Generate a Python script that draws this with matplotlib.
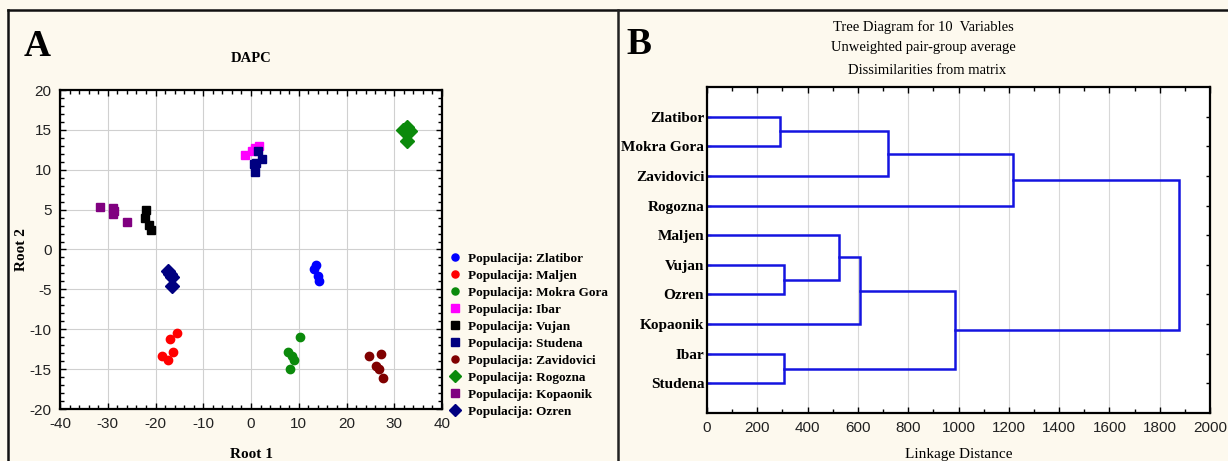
import matplotlib
matplotlib.use("Agg")
import matplotlib.pyplot as plt
from matplotlib.lines import Line2D
from matplotlib.ticker import MultipleLocator

plt.rcParams["axes.unicode_minus"] = False

# DAPC scores (Root 1, Root 2) per population
zlatibor_x = [13.7, 13.2, 14.0, 14.3]
zlatibor_y = [-2.0, -2.5, -3.3, -3.9]
maljen_x = [-15.6, -16.9, -16.4, -18.6, -17.3]
maljen_y = [-10.5, -11.2, -12.8, -13.3, -13.8]
mokra_x = [10.3, 7.8, 8.5, 9.1, 8.2]
mokra_y = [-11.0, -12.9, -13.4, -13.8, -15.0]
ibar_x = [-1.2, 0.2, 0.8, 1.7]
ibar_y = [11.8, 12.4, 12.7, 13.0]
vujan_x = [-21.9, -22.2, -21.3, -21.0]
vujan_y = [5.0, 4.0, 3.1, 2.5]
studena_x = [1.4, 2.2, 0.6, 0.9, 1.1]
studena_y = [12.4, 11.3, 10.7, 9.7, 10.9]
zavid_x = [24.8, 27.3, 26.2, 26.8, 27.6]
zavid_y = [-13.4, -13.15, -14.6, -15.0, -16.1]
rogozna_x = [31.8, 32.6, 33.4, 32.6]
rogozna_y = [15.0, 15.4, 14.8, 13.6]
kopaonik_x = [-31.7, -29.0, -28.8, -28.6, -26.0]
kopaonik_y = [5.3, 5.2, 4.4, 4.8, 3.4]
ozren_x = [-17.3, -17.0, -16.6, -16.6]
ozren_y = [-2.7, -3.1, -3.5, -4.6]

pop_names = ["Zlatibor", "Maljen", "Mokra Gora", "Ibar", "Vujan", "Studena",
             "Zavidovici", "Rogozna", "Kopaonik", "Ozren"]
pop_x = [zlatibor_x, maljen_x, mokra_x, ibar_x, vujan_x, studena_x,
         zavid_x, rogozna_x, kopaonik_x, ozren_x]
pop_y = [zlatibor_y, maljen_y, mokra_y, ibar_y, vujan_y, studena_y,
         zavid_y, rogozna_y, kopaonik_y, ozren_y]
pop_colors = ["#0000ff", "#ff0000", "#0b8a0b", "#ff00ff", "#000000", "#000080",
              "#800000", "#0b8a0b", "#800080", "#000080"]
pop_markers = ["o", "o", "o", "s", "s", "s", "o", "D", "s", "D"]

# dendrogram (UPGMA): leaves top to bottom, and merge distances
leaves = ["Zlatibor", "Mokra Gora", "Zavidovici", "Rogozna", "Maljen",
          "Vujan", "Ozren", "Kopaonik", "Ibar", "Studena"]
# each merge: (left node, right node, height); nodes 0-9 are leaves
merges = [(0, 1, 290), (10, 2, 720), (11, 3, 1215),
          (5, 6, 305), (4, 13, 525), (14, 7, 607),
          (8, 9, 305), (15, 16, 986), (12, 17, 1876)]

bg = "#fdf9ee"
serif = "Liberation Serif"
sans = "Liberation Sans"

fig = plt.figure(figsize=(12.28, 4.61), dpi=100, facecolor=bg)

# panel borders
fig.add_artist(Line2D([8 / 1228, 1], [1 - 10 / 461, 1 - 10 / 461], color="#111", lw=1.8))
fig.add_artist(Line2D([8 / 1228, 8 / 1228], [0, 1 - 10 / 461], color="#111", lw=1.8))
fig.add_artist(Line2D([618 / 1228, 618 / 1228], [0, 1 - 10 / 461], color="#222", lw=1.8))

# ---- Panel A: DAPC scatter
ax = fig.add_axes([60 / 1228, 1 - 409 / 461, 382 / 1228, 319 / 461])
ax.set_facecolor("white")
for name, xs, ys, c, m in zip(pop_names, pop_x, pop_y, pop_colors, pop_markers):
    ms = 7.5 if m == "D" else 6
    ax.plot(xs, ys, ls="none", marker=m, color=c, ms=ms, mec=c,
            label="Populacija: " + name)
ax.set_xlim(-40, 40)
ax.set_ylim(-20, 20)
ax.xaxis.set_major_locator(MultipleLocator(10))
ax.yaxis.set_major_locator(MultipleLocator(5))
ax.xaxis.set_minor_locator(MultipleLocator(2))
ax.yaxis.set_minor_locator(MultipleLocator(1))
ax.grid(True, which="major", color="#d0d0d0", lw=0.8)
ax.tick_params(which="both", direction="in", top=True, right=True, length=3, width=1)
ax.tick_params(which="major", length=4, labelsize=11, pad=6, labelcolor="#222")
for lab in ax.get_xticklabels() + ax.get_yticklabels():
    lab.set_family(sans)
for s in ax.spines.values():
    s.set_linewidth(1.6)
ax.set_xlabel("Root 1", family=serif, fontweight="bold", fontsize=11, labelpad=12)
ax.set_ylabel("Root 2", family=serif, fontweight="bold", fontsize=11)
ax.yaxis.set_label_coords(-0.084, 0.5)
ax.set_title("DAPC", family=serif, fontweight="bold", fontsize=10.5, pad=20)
leg = ax.legend(loc="upper left", bbox_to_anchor=(1.0, 0.515), frameon=False,
                prop={"family": serif, "weight": "bold", "size": 9.5},
                handlelength=0.8, handletextpad=0.6, labelspacing=0.36,
                borderaxespad=0.2, markerscale=0.85)
fig.text(24 / 1228, 1 - 56 / 461, "A", family=serif, fontweight="bold", fontsize=27)

# ---- Panel B: tree diagram
bx = fig.add_axes([707 / 1228, 1 - 413 / 461, 503 / 1228, 326 / 461])
bx.set_facecolor("white")
pos = {i: (0.0, float(i + 1)) for i in range(len(leaves))}
node = len(leaves)
for a, b, h in merges:
    xa, ya = pos[a]
    xb, yb = pos[b]
    bx.plot([xa, h, h, xb], [ya, ya, yb, yb], color="#1414e0", lw=1.8,
            solid_joinstyle="miter", clip_on=False)
    pos[node] = (h, (ya + yb) / 2)
    node += 1
bx.set_xlim(0, 2000)
bx.set_ylim(11, 0)
bx.xaxis.set_major_locator(MultipleLocator(200))
bx.xaxis.set_minor_locator(MultipleLocator(100))
bx.set_yticks(range(1, len(leaves) + 1))
bx.set_yticklabels(leaves, family=serif, fontweight="bold", fontsize=11)
bx.grid(True, axis="x", which="major", color="#d8d8d8", lw=0.8)
bx.tick_params(which="both", direction="in", top=True, right=True, length=3, width=1)
bx.tick_params(axis="y", length=3, pad=2)
bx.tick_params(axis="x", which="major", length=4, labelsize=11, pad=6, labelcolor="#222")
for lab in bx.get_xticklabels():
    lab.set_family(sans)
for s in bx.spines.values():
    s.set_linewidth(1.6)
bx.set_xlabel("Linkage Distance", family=serif, fontsize=11, labelpad=9)
fig.text(923 / 1228, 1 - 27 / 461, "Tree Diagram for 10  Variables", family=serif,
         fontsize=10.5, ha="center", va="center")
fig.text(923 / 1228, 1 - 48 / 461, "Unweighted pair-group average", family=serif,
         fontsize=10.5, ha="center", va="center")
fig.text(927 / 1228, 1 - 70 / 461, "Dissimilarities from matrix", family=serif,
         fontsize=10.5, ha="center", va="center")
fig.text(626 / 1228, 1 - 54 / 461, "B", family=serif, fontweight="bold", fontsize=27)

fig.savefig("out.png", dpi=100, facecolor=bg)
